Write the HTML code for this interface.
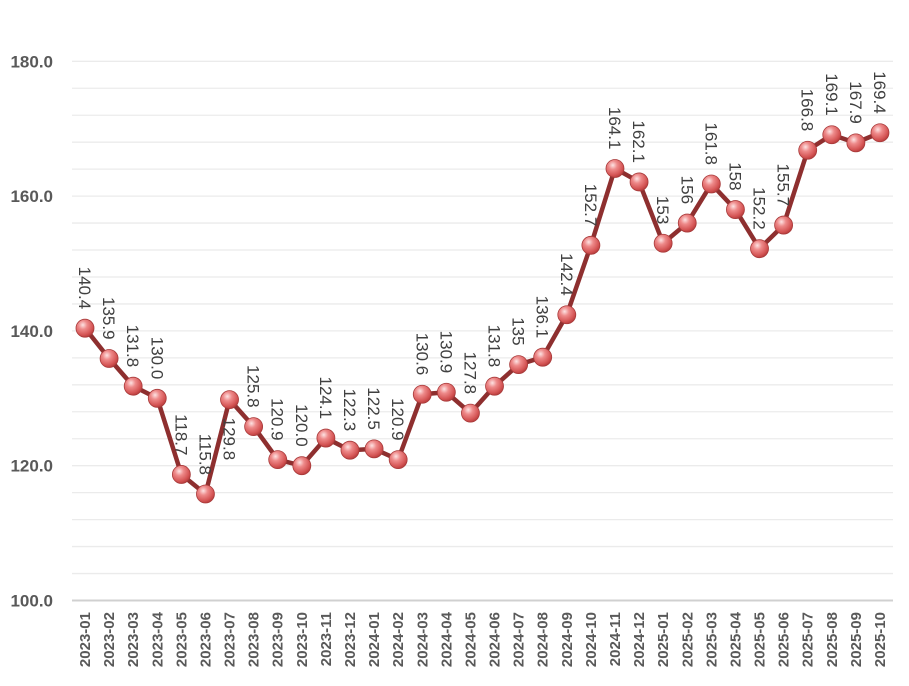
<!DOCTYPE html>
<html><head><meta charset="utf-8"><style>
html,body{margin:0;padding:0;background:#fff;}
svg{display:block;font-family:"Liberation Sans",sans-serif;}
</style></head><body>
<svg id="c" width="909" height="686" viewBox="0 0 909 686" xmlns="http://www.w3.org/2000/svg">
<defs>
<radialGradient id="g" cx="0.38" cy="0.32" r="0.7">
<stop offset="0" stop-color="#fde3e3"/>
<stop offset="0.35" stop-color="#ee8a8a"/>
<stop offset="0.8" stop-color="#d45454"/>
<stop offset="1" stop-color="#b73d3d"/>
</radialGradient>
</defs>
<g id="grid"></g>
<g id="ylab" font-size="17" font-weight="bold" fill="#595959" text-anchor="end"></g>
<polyline id="line" fill="none" stroke="#8e2f2f" stroke-width="4.5" stroke-linejoin="round"/>
<g id="pts"></g>
<g id="dl" font-size="17" fill="#404040"></g>
<g id="xl" font-size="15" font-weight="bold" fill="#595959"></g>
</svg>
<script>
var d=[140.4,135.9,131.8,130.0,118.7,115.8,129.8,125.8,120.9,120.0,124.1,122.3,122.5,120.9,130.6,130.9,127.8,131.8,135,136.1,142.4,152.7,164.1,162.1,153,156,161.8,158,152.2,155.7,166.8,169.1,167.9,169.4];
var lbl=["140.4","135.9","131.8","130.0","118.7","115.8","129.8","125.8","120.9","120.0","124.1","122.3","122.5","120.9","130.6","130.9","127.8","131.8","135","136.1","142.4","152.7","164.1","162.1","153","156","161.8","158","152.2","155.7","166.8","169.1","167.9","169.4"];
var below={6:1};
var ns="http://www.w3.org/2000/svg";
function Y(v){return 600.5-(v-100)*6.74;}
function X(i){return 85+i*24.09;}
function el(t,a,p,txt){var e=document.createElementNS(ns,t);for(var k in a)e.setAttribute(k,a[k]);if(txt!=null)e.textContent=txt;document.getElementById(p).appendChild(e);return e;}
for(var v=100;v<=180;v+=4){el('line',{x1:72,x2:893,y1:Y(v),y2:Y(v),stroke:v==100?'#d0d0d0':'#ebebeb','stroke-width':v==100?2:1.3},'grid');}
for(var v=100;v<=180;v+=20){el('text',{x:53,y:Y(v)+6},'ylab',v.toFixed(1));}
var pts=[];
for(var i=0;i<d.length;i++){
 var x=X(i),y=Y(d[i]);pts.push(x+','+y);
 el('circle',{cx:x,cy:y,r:9,fill:'url(#g)',stroke:'#a83a3a','stroke-width':0.8},'pts');
 if(below[i]) el('text',{transform:'translate('+(x-6)+','+(y+18)+') rotate(90)','text-anchor':'start'},'dl',lbl[i]);
 else el('text',{transform:'translate('+(x-6)+','+(y-19)+') rotate(90)','text-anchor':'end'},'dl',lbl[i]);
 var m=(i<12)?'2023-'+('0'+(i+1)).slice(-2):(i<24?'2024-'+('0'+(i-11)).slice(-2):'2025-'+('0'+(i-23)).slice(-2));
 el('text',{transform:'translate('+(x+5)+',612) rotate(-90)','text-anchor':'end'},'xl',m);
}
document.getElementById('line').setAttribute('points',pts.join(' '));
</script>
</body></html>
